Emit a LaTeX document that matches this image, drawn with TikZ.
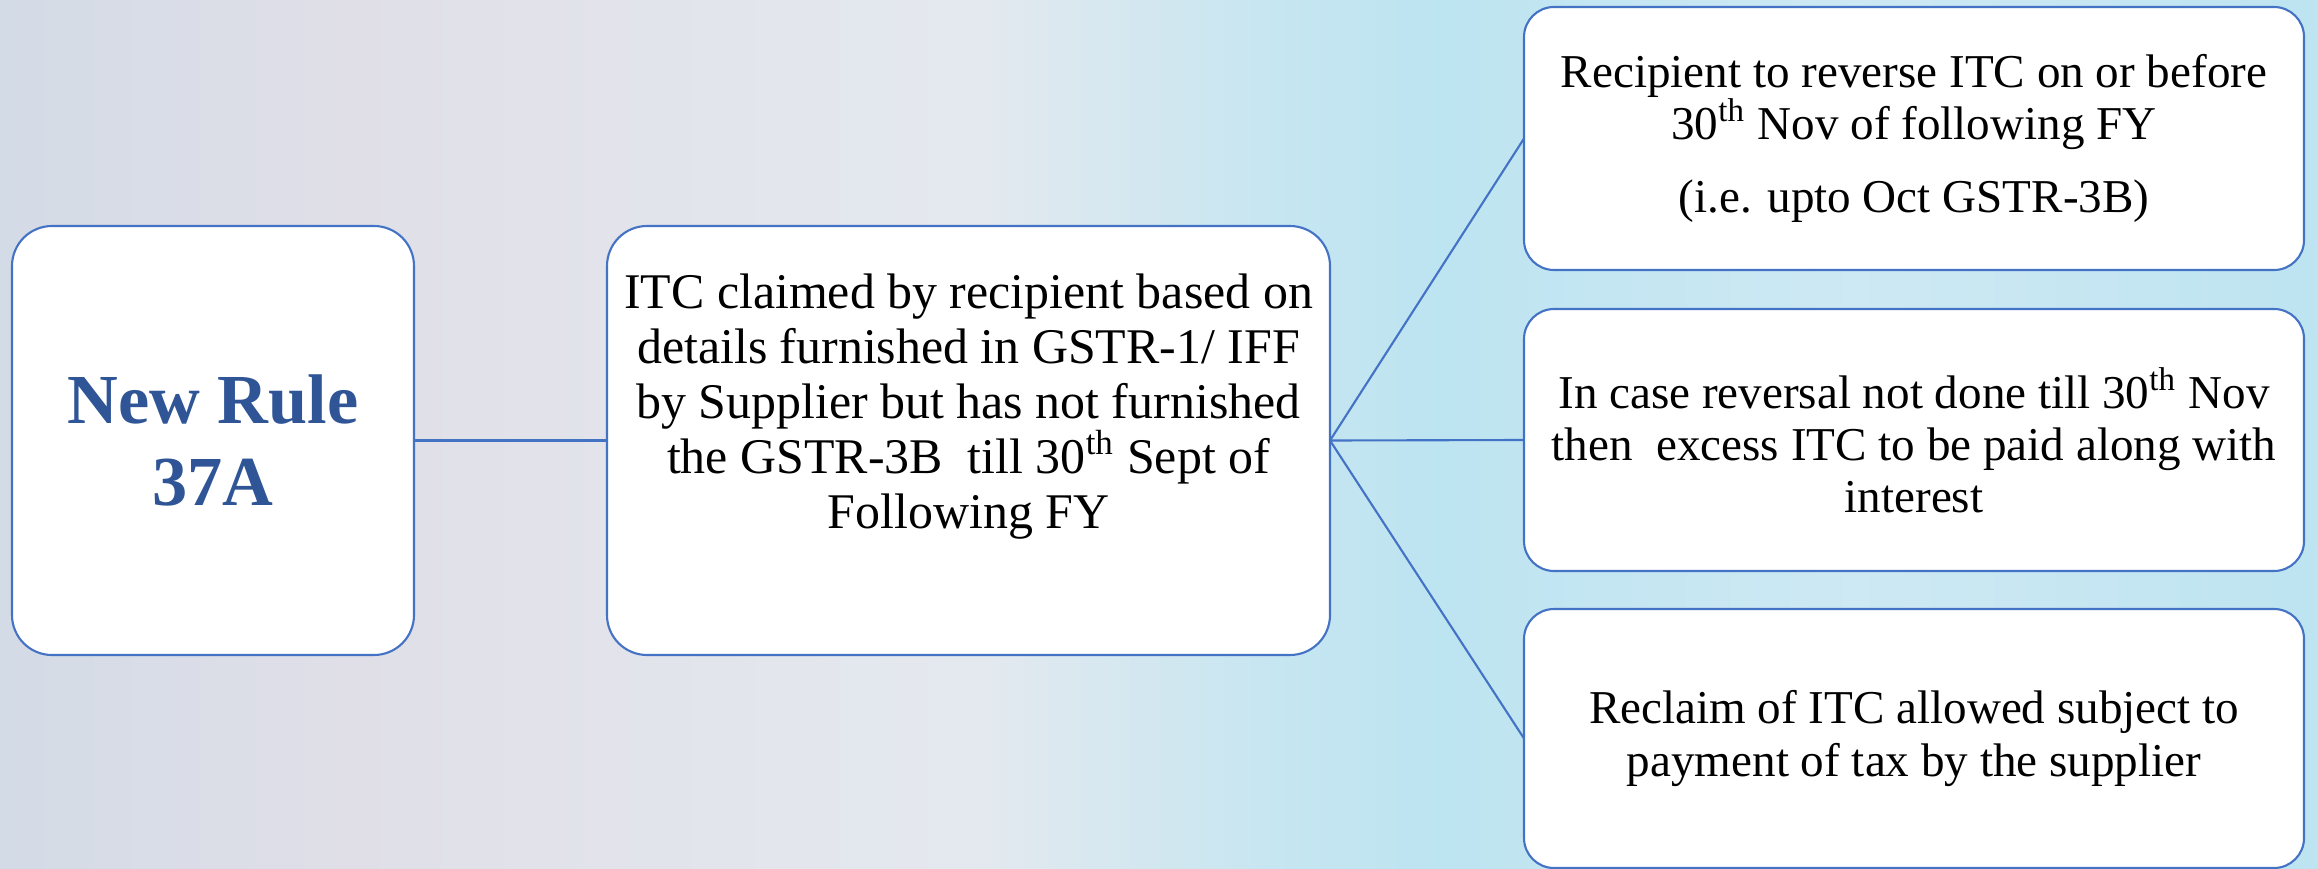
\documentclass[tikz,border=0pt]{standalone}
\usepackage{fontspec}
\setmainfont{Liberation Serif}
\definecolor{linkblue}{HTML}{4472C4}
\definecolor{titleblue}{HTML}{2F5597}
\definecolor{bgA}{HTML}{D3DBE6}
\definecolor{bgB}{HTML}{E0DFE8}
\definecolor{bgC}{HTML}{E4E9EF}
\definecolor{bgD}{HTML}{C6E6F1}
\definecolor{bgE}{HTML}{BDE4F1}
\definecolor{bgF}{HTML}{CDE9F3}
\definecolor{bgG}{HTML}{BEE4F1}
\pgfdeclarehorizontalshading{bgshade}{100bp}{color(0bp)=(bgA); color(25bp)=(bgA); color(32.5bp)=(bgB); color(46bp)=(bgC); color(52.5bp)=(bgD); color(56bp)=(bgE); color(65bp)=(bgF); color(75bp)=(bgG); color(100bp)=(bgG)}

\begin{document}
\begin{tikzpicture}[inner sep=0pt,outer sep=0pt,line width=0.6pt,
rulebox/.style={draw=linkblue,fill=white,rounded corners=0.4cm,minimum width=4.02cm,minimum height=4.29cm},
bodytext/.style={align=center,font=\fontsize{14.2}{15.6}\selectfont},
notebox/.style={draw=linkblue,fill=white,rounded corners=0.3cm,minimum width=7.80cm,minimum height=2.62cm,align=center,font=\fontsize{13.4}{14.8}\selectfont}]

\shade[shading=bgshade] (0,0) rectangle (23.18,-8.69);
\useasboundingbox (0,0) rectangle (23.18,-8.69);

\draw (2.13,-4.405) node[rulebox,text=titleblue,align=center,font=\bfseries\fontsize{20}{23.5}\selectfont] (rule) {New Rule\\37A};
\draw (9.685,-4.405) node[rulebox,minimum width=7.23cm] (itc) {};
\draw ([yshift=0.34cm]itc.center) node[bodytext] (itctext) {ITC claimed by recipient based on\\details furnished in GSTR-1/ IFF\\by Supplier but has not furnished\\the GSTR-3B\ \ till 30\textsuperscript{th} Sept of\\Following FY};
\draw (19.14,-1.385) node[notebox,minimum height=2.63cm] (reverse) {Recipient to reverse ITC on or before\\30\textsuperscript{th} Nov of following FY\\[0.21cm](i.e. upto Oct GSTR-3B)};
\draw (19.14,-4.40) node[notebox] (interest) {In case reversal not done till 30\textsuperscript{th} Nov\\then\ \ excess ITC to be paid along with\\interest};
\draw (19.14,-7.385) node[notebox,minimum height=2.59cm] (reclaim) {Reclaim of ITC allowed subject to\\payment of tax by the supplier};

\draw[linkblue] (rule) -- (itc);
\draw[linkblue] (itc.east) -- (reverse.west);
\draw[linkblue] (itc.east) -- (interest.west);
\draw[linkblue] (itc.east) -- (reclaim.west);
\end{tikzpicture}
\end{document}
